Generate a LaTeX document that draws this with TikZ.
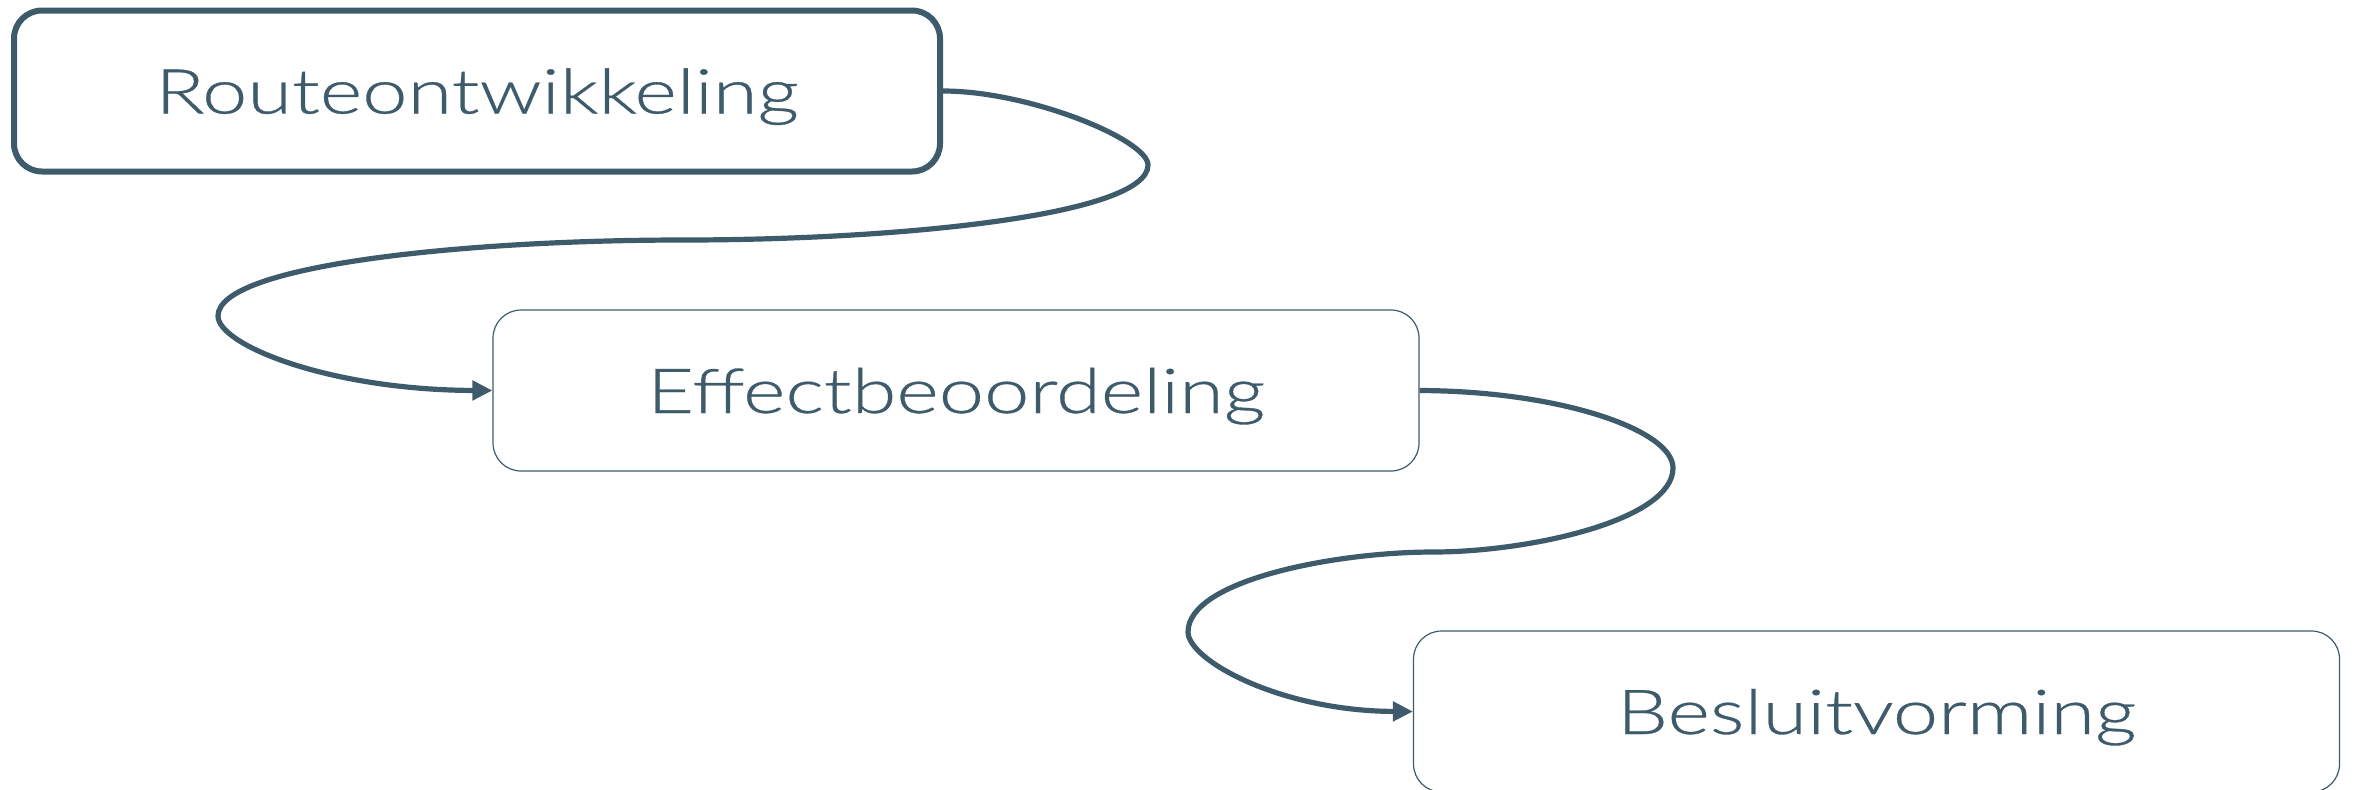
\documentclass[tikz,border=0pt]{standalone}
\usepackage{fontspec}
\setmainfont{Lato Light}[FakeStretch=1.31,FakeBold=0.5]
\usetikzlibrary{arrows.meta}
\definecolor{slate}{HTML}{3E5B6C}
\tikzset{
  box/.style={draw=slate, rounded corners=14pt, minimum width=463pt, minimum height=80.5pt,
    inner sep=0pt, text=slate, text height=22.5pt, text depth=0pt,
    font=\fontsize{31pt}{36pt}\selectfont, fill=white},
  thickbox/.style={box, line width=3pt},
  thinbox/.style={box, line width=0.6pt},
  conn/.style={draw=slate, line width=2.6pt, -{Triangle[length=10pt,width=9.5pt]}}
}
\begin{document}
\begin{tikzpicture}[x=0.5pt,y=-0.5pt]
\useasboundingbox (0,0) rectangle (2353,789);
\node[thickbox] (r) at (477,91) {Routeontwikkeling};
\node[thinbox] (e) at (956,390.5) {Effectbeoordeling};
\node[thinbox] (b) at (1876.5,711.5) {Besluitvorming};
\coordinate (p1) at (1148,165);
\coordinate (p2) at (683,240);
\coordinate (p3) at (218,316);
\coordinate (q1) at (1673,468);
\coordinate (q2) at (1433,552);
\coordinate (q3) at (1188,632);
\draw[conn] (r.east) .. controls (1030,91) and (1148,140) .. (p1)
  .. controls (1148,215) and (900,240) .. (p2)
  .. controls (466,240) and (218,265) .. (p3)
  .. controls (218,345) and (330,390) .. (e.west);
\draw[conn] (e.east) .. controls (1560,391) and (1673,430) .. (q1)
  .. controls (1673,520) and (1530,552) .. (q2)
  .. controls (1336,552) and (1188,580) .. (q3)
  .. controls (1188,660) and (1280,711) .. (b.west);
\end{tikzpicture}
\end{document}
